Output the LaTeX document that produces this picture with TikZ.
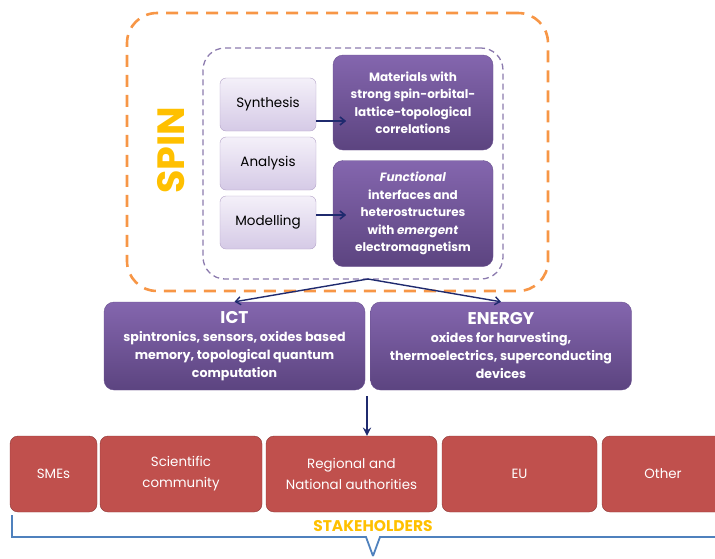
\documentclass[tikz,border=0pt]{standalone}
\usepackage{fontspec}
\setmainfont{Poppins}
\usetikzlibrary{arrows.meta}
\definecolor{spinorange}{HTML}{F79646}
\definecolor{spingold}{HTML}{FFC000}
\definecolor{methodline}{HTML}{8C7BAE}
\definecolor{tasktop}{HTML}{F4F0F9}
\definecolor{taskbot}{HTML}{D5CAE6}
\definecolor{taskline}{HTML}{B3A2C7}
\definecolor{topictop}{HTML}{8466AE}
\definecolor{topicbot}{HTML}{5C4480}
\definecolor{topicline}{HTML}{6B5290}
\definecolor{holderfill}{HTML}{C0504D}
\definecolor{holderline}{HTML}{8C3836}
\definecolor{arrownavy}{HTML}{1F2A6E}
\definecolor{bracket}{HTML}{4F81BD}
\begin{document}
\begin{tikzpicture}[
    x=1pt, y=-1pt,
    task/.style={draw=taskline, rounded corners=6pt, top color=tasktop, bottom color=taskbot,
        minimum width=96pt, minimum height=53pt, font=\fontsize{13.5}{15}\selectfont},
    topic/.style={draw=topicline, rounded corners=10pt, top color=topictop, bottom color=topicbot,
        text=white, align=center, minimum width=160pt, font=\bfseries\fontsize{12}{17.5}\selectfont},
    field/.style={draw=topicline, rounded corners=10pt, top color=topictop, bottom color=topicbot,
        text=white, align=center, minimum width=261pt, minimum height=88pt,
        font=\bfseries\fontsize{12.6}{18}\selectfont},
    holder/.style={draw=holderline, fill=holderfill, rounded corners=8pt, text=white,
        align=center, minimum height=76pt, font=\fontsize{13.4}{21}\selectfont},
    link/.style={-{Straight Barb[length=5pt,width=8pt]}, draw=arrownavy, line width=1.6pt},
    >=stealth
]
    \useasboundingbox (0,0) rectangle (715,558);

    % Containers
    \node[draw=spinorange, dashed, dash pattern=on 12pt off 8pt, line width=2.6pt,
        rounded corners=30pt, minimum width=421pt, minimum height=278pt] (spinbox) at (337.5,152) {};
    \node[draw=methodline, dash pattern=on 6pt off 4pt, line width=1.3pt,
        rounded corners=22pt, minimum width=300pt, minimum height=231pt] (methods) at (353,163.5) {};
    \node[rotate=90, text=spingold, font=\bfseries\fontsize{38}{38}\selectfont] (spin) at (171,150) {SPIN};

    % Methods
    \node[task] (synth) at (268,104.5) {Synthesis};
    \node[task] (analysis) at (268,163.5) {Analysis};
    \node[task] (model) at (268,222.5) {Modelling};

    % Topics
    \node[topic, minimum height=95pt] (materials) at (413,102.5)
        {Materials with\\strong spin-orbital-\\lattice-topological\\correlations};
    \node[topic, minimum height=106pt] (functional) at (413,213.5)
        {\textit{Functional}\\interfaces and\\heterostructures\\with \textit{emergent}\\electromagnetism};

    \draw[link] (synth.east |- 0,121) -- ++(30,0);
    \draw[link] (model.east |- 0,215) -- ++(30,0);

    % Application fields
    \node[field] (ict) at (234.5,346)
        {{\fontsize{17}{20}\selectfont ICT}\\spintronics, sensors, oxides based\\memory, topological quantum\\computation};
    \node[field] (energy) at (501,346)
        {{\fontsize{17}{20}\selectfont ENERGY}\\oxides for harvesting,\\thermoelectrics, superconducting\\devices};

    \coordinate (split) at (368,279);
    \draw[-{Straight Barb[length=5pt,width=8pt]}, draw=arrownavy, line width=1.4pt] (split) -- (ict.north);
    \draw[-{Straight Barb[length=5pt,width=8pt]}, draw=arrownavy, line width=1.4pt] (split) -- (energy.north);

    % Stakeholders
    \node[holder, minimum width=87pt] (smes) at (53.5,474) {SMEs};
    \node[holder, minimum width=162pt] (science) at (181,474) {Scientific\\community};
    \node[holder, minimum width=171pt] (region) at (351.5,474) {Regional and\\National authorities};
    \node[holder, minimum width=155pt] (eu) at (519.5,474) {EU};
    \node[holder, minimum width=122pt] (other) at (663,474) {Other};

    \coordinate (fork) at (367,396);
    \draw[->, draw=arrownavy, line width=2.6pt] (fork) -- (fork |- region.north);

    % Bracket
    \draw[draw=bracket, line width=1.8pt] (12,515) -- (12,537) -- (366,537) -- (373,556)
        (373,556) -- (380,537) -- (720,537);
    \node[text=spingold, font=\bfseries\fontsize{15.5}{15.5}\selectfont] (stake) at (373,526) {STAKEHOLDERS};
\end{tikzpicture}
\end{document}
